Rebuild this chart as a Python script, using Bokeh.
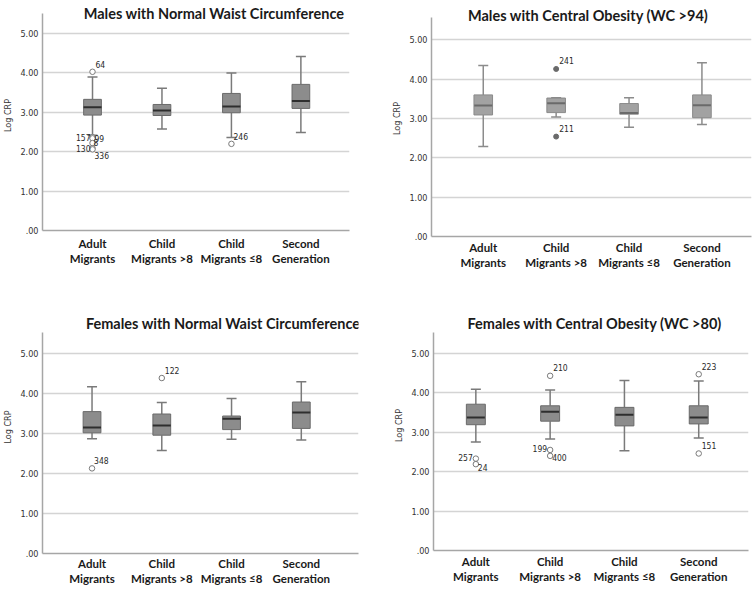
from bokeh.plotting import figure
from bokeh.layouts import column, row
from bokeh.models import Range1d, FixedTicker, Label, ColumnDataSource
from bokeh.core.properties import value
from bokeh.embed import file_html
from bokeh.resources import INLINE

categories = ["Adult\nMigrants", "Child\nMigrants >8", "Child\nMigrants \u22648", "Second\nGeneration"]
cat_pos = [1, 2, 3, 4]
y_ticks = [0, 1, 2, 3, 4, 5]
y_tick_labels = [".00", "1.00", "2.00", "3.00", "4.00", "5.00"]
y_axis_title = "Log CRP"

# Males with Normal Waist Circumference
mn_title = "Males with Normal Waist Circumference"
mn_low = [2.42, 2.58, 2.36, 2.49]
mn_q1 = [2.93, 2.92, 2.99, 3.10]
mn_med = [3.13, 3.05, 3.15, 3.29]
mn_q3 = [3.33, 3.20, 3.48, 3.71]
mn_high = [3.90, 3.61, 4.00, 4.42]
mn_out_cat = [1, 1, 1, 1, 1, 1, 3]
mn_out_val = [4.03, 2.37, 2.34, 2.22, 2.09, 2.06, 2.20]
mn_out_id = ["64", "157", "99", "8", "130", "336", "246"]

# Males with Central Obesity
mc_title = "Males with Central Obesity (WC >94)"
mc_low = [2.29, 3.04, 2.78, 2.85]
mc_q1 = [3.09, 3.15, 3.11, 3.02]
mc_med = [3.33, 3.39, 3.14, 3.34]
mc_q3 = [3.60, 3.52, 3.38, 3.60]
mc_high = [4.35, 3.53, 3.53, 4.42]
mc_out_cat = [2, 2]
mc_out_val = [4.26, 2.54]
mc_out_id = ["241", "211"]

# Females with Normal Waist Circumference
fn_title = "Females with Normal Waist Circumference"
fn_low = [2.87, 2.58, 2.86, 2.84]
fn_q1 = [3.02, 2.96, 3.10, 3.13]
fn_med = [3.15, 3.20, 3.37, 3.53]
fn_q3 = [3.55, 3.49, 3.44, 3.79]
fn_high = [4.17, 3.78, 3.88, 4.30]
fn_out_cat = [1, 2]
fn_out_val = [2.13, 4.39]
fn_out_id = ["348", "122"]

# Females with Central Obesity
fc_title = "Females with Central Obesity (WC >80)"
fc_low = [2.75, 2.83, 2.53, 2.85]
fc_q1 = [3.19, 3.28, 3.16, 3.21]
fc_med = [3.37, 3.52, 3.44, 3.37]
fc_q3 = [3.71, 3.67, 3.63, 3.67]
fc_high = [4.09, 4.07, 4.31, 4.30]
fc_out_cat = [1, 1, 2, 2, 2, 4, 4]
fc_out_val = [2.33, 2.19, 4.43, 2.55, 2.40, 4.47, 2.46]
fc_out_id = ["257", "24", "210", "199", "400", "223", "151"]

SMALL_FONT = "'Liberation Sans Narrow', 'DejaVu Sans Condensed', 'Liberation Sans', sans-serif"
BIG_FONT = "Lato"


def make_panel(title, low, q1, med, q3, high, out_cat, out_val, out_id, label_place,
               width, height, borders, xr, yr_end, axis_top, title_xy, cat_standoff, filled=False,
               box_fill="#8c8c8c", box_line="#6a6a6a", med_color="#2e2e2e", wcol="#7a7a7a"):
    bl, br, bt, bb = borders
    p = figure(width=width, height=height, output_backend="svg", toolbar_location=None,
               x_range=Range1d(*xr), y_range=Range1d(0, yr_end),
               min_border_left=bl, min_border_right=br, min_border_top=bt, min_border_bottom=bb)
    p.outline_line_color = None
    p.background_fill_color = "white"
    p.border_fill_color = "white"
    p.xgrid.grid_line_color = None
    p.ygrid.grid_line_color = "#d4d4d4"
    p.ygrid.grid_line_width = 1.5
    p.ygrid.ticker = FixedTicker(ticks=y_ticks)

    p.yaxis.ticker = FixedTicker(ticks=y_ticks)
    p.yaxis.bounds = (0, axis_top)
    p.yaxis.major_label_overrides = {t: s for t, s in zip(y_ticks, y_tick_labels)}
    p.yaxis.axis_label = y_axis_title
    p.yaxis.axis_label_text_font = SMALL_FONT
    p.yaxis.axis_label_text_font_size = "9px"
    p.yaxis.axis_label_text_font_style = "normal"
    p.yaxis.axis_label_text_color = "#333333"
    p.yaxis.axis_label_standoff = 4
    p.yaxis.major_label_text_font = SMALL_FONT
    p.yaxis.major_label_text_font_size = "9px"
    p.yaxis.major_label_text_color = "#333333"
    p.yaxis.major_label_standoff = 4

    p.xaxis.ticker = FixedTicker(ticks=cat_pos)
    p.xaxis.major_label_overrides = {c: s for c, s in zip(cat_pos, categories)}
    p.xaxis.major_label_text_font = BIG_FONT
    p.xaxis.major_label_text_font_style = "bold"
    p.xaxis.major_label_text_font_size = "11.5px"
    p.xaxis.major_label_text_line_height = 1.2
    p.xaxis.major_label_text_color = "#1a1a1a"
    p.xaxis.major_label_standoff = cat_standoff

    for ax in (p.xaxis[0], p.yaxis[0]):
        ax.axis_line_color = "#a6a6a6"
        ax.axis_line_width = 1.5
        ax.major_tick_line_color = None
        ax.minor_tick_line_color = None
        ax.major_tick_out = 0
        ax.major_tick_in = 0

    src = ColumnDataSource(dict(x=cat_pos, low=low, q1=q1, med=med, q3=q3, high=high))
    # whiskers
    p.segment(x0="x", x1="x", y0="q3", y1="high", source=src, line_color=wcol, line_width=1.5)
    p.segment(x0="x", x1="x", y0="low", y1="q1", source=src, line_color=wcol, line_width=1.5)
    # caps
    p.scatter(x="x", y="high", marker="dash", size=10, source=src, line_color=wcol, line_width=1.5)
    p.scatter(x="x", y="low", marker="dash", size=10, source=src, line_color=wcol, line_width=1.5)
    # boxes
    p.vbar(x="x", width=0.255, bottom="q1", top="q3", source=src,
           fill_color=box_fill, line_color=box_line, line_width=1)
    p.scatter(x="x", y="med", marker="dash", size=18, source=src, line_color=med_color, line_width=2)

    dx, dy, al = zip(*label_place)
    osrc = ColumnDataSource(dict(x=out_cat, y=out_val, t=out_id, dx=dx, dy=dy, al=al))
    if filled:
        p.scatter(x="x", y="y", source=osrc, size=5, fill_color="#6a6a6a", line_color="#6a6a6a")
    else:
        p.scatter(x="x", y="y", source=osrc, size=5.5, fill_color="white", line_color="#7a7a7a",
                  line_width=1)
    p.text(x="x", y="y", text="t", source=osrc, x_offset="dx", y_offset="dy", text_align="al",
           text_baseline="middle", text_font=value(SMALL_FONT), text_font_size="8.5px",
           text_color="#2a2a2a")

    p.add_layout(Label(x=title_xy[0], y=title_xy[1], text=title, text_align="center",
                       text_baseline="middle", text_font=BIG_FONT, text_font_style="bold",
                       text_font_size="14.5px", text_color="#1a1a1a"))
    return p


mn_place = [(3, -7, "left"), (-2, 0, "right"), (2, 0, "left"), (1, -1, "left"),
            (-2, 0, "right"), (2, 6, "left"), (2, -7, "left")]
mc_place = [(3, -8, "left"), (3, -8, "left")]
fn_place = [(2, -8, "left"), (3, -8, "left")]
fc_place = [(-3, -1, "right"), (2, 3, "left"), (3, -8, "left"), (-3, -1, "right"),
            (2, 2, "left"), (3, -8, "left"), (3, -8, "left")]

p1 = make_panel(mn_title, mn_low, mn_q1, mn_med, mn_q3, mn_high, mn_out_cat, mn_out_val, mn_out_id,
                mn_place, 378, 293, (35, 29, 0, 63), (0.28, 4.70), 5.84, 5.5, (2.75, 5.51), 6)
p2 = make_panel(mc_title, mc_low, mc_q1, mc_med, mc_q3, mc_high, mc_out_cat, mc_out_val, mc_out_id,
                mc_place, 374, 293, (53, 1, 0, 57), (0.29, 4.68), 6.0, 5.56, (2.44, 5.62), 4,
                filled=True, box_fill="#a2a2a2", box_line="#8a8a8a", med_color="#6a6a6a",
                wcol="#8c8c8c")
p3 = make_panel(fn_title, fn_low, fn_q1, fn_med, fn_q3, fn_high, fn_out_cat, fn_out_val, fn_out_id,
                fn_place, 378, 301, (36, 20, 7, 41), (0.29, 4.82), 6.33, 5.54, (2.88, 5.76), 3)
p4 = make_panel(fc_title, fc_low, fc_q1, fc_med, fc_q3, fc_high, fc_out_cat, fc_out_val, fc_out_id,
                fc_place, 374, 301, (55, 4, 7, 44), (0.43, 4.67), 6.34, 5.53, (2.60, 5.76), 4)

layout = column(row(column(p1), column(p2)), row(column(p3), column(p4)))
open("out.html", "w").write(file_html(layout, INLINE))
